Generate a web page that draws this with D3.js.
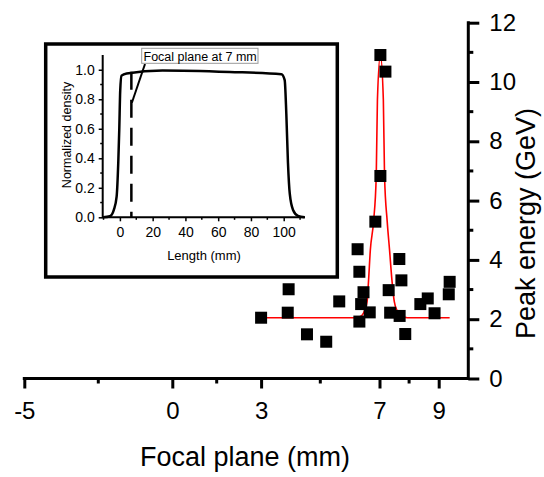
<!DOCTYPE html>
<html>
<head>
<meta charset="utf-8">
<script src="https://cdn.jsdelivr.net/npm/d3@7"></script>
<style>
  html, body { margin: 0; padding: 0; background: #fff; }
  svg { display: block; font-family: "Liberation Sans", Arial, sans-serif; }
</style>
</head>
<body>
<svg id="chart" width="544" height="477"></svg>
<script>
// Peak energy measured at each focal-plane position
const focalPlane = [3.0, 3.93, 3.9, 4.55, 5.2, 5.64, 6.26, 6.32, 6.46, 6.38, 6.67, 6.32, 6.86, 7.03, 7.03, 7.2,
                    7.31, 7.36, 7.67, 7.74, 7.68, 7.87, 8.38, 8.63, 8.86, 9.37, 9.34];
const peakEnergy = [2.05, 3.01, 2.22, 1.49, 1.24, 2.6, 4.36, 3.6, 2.91, 2.51, 2.23, 1.92, 5.29, 6.83, 10.91, 10.35,
                    2.98, 2.22, 4.03, 3.31, 2.11, 1.5, 2.51, 2.7, 2.2, 3.26, 2.84];

// Fitted peak curve
const fitX = [3.0, 6.2, 6.4, 6.5, 6.58, 6.63, 6.69, 6.8, 6.89, 6.93, 7.03, 7.13, 7.17, 7.26, 7.34, 7.42, 7.5, 7.6, 7.75, 7.95, 9.37];
const fitY = [2.05, 2.05, 2.12, 2.3, 2.59, 3.3, 4.33, 5.3, 6.83, 9.4, 10.9, 9.4, 6.83, 5.3, 4.33, 3.32, 2.59, 2.28, 2.1, 2.05, 2.05];

// Axis ticks
const xMajorTicks = [-5, 0, 3, 7, 9];
const xMinorTicks = [-2.5, 1.5, 5, 8];
const yMajorTicks = [0, 2, 4, 6, 8, 10, 12];
const yMinorTicks = [1, 3, 5, 7, 9, 11];

// Inset: plasma density profile along the cell
const cellLength = [-10.2, -6.1, -3.7, -2.0, -1.0, -0.4, 0.2, 1.0, 4.1, 26, 67, 98.6, 100.6, 101.6, 102.6, 103.7, 105.7, 108.7, 112.8];
const density    = [0, 0.007, 0.05, 0.14, 0.37, 0.59, 0.86, 0.96, 0.975, 0.995, 0.985, 0.97, 0.93, 0.70, 0.37, 0.16, 0.05, 0.01, 0];
const insetXTicks = [0, 20, 40, 60, 80, 100];
const insetXMinor = [-10, 10, 30, 50, 70, 90, 110];
const insetYTicks = [0, 0.2, 0.4, 0.6, 0.8, 1.0];
const insetYMinor = [0.1, 0.3, 0.5, 0.7, 0.9];
const focalPosition = 7;

const svg = d3.select("#chart");
const plain = d => String(d);   // ASCII hyphen for negatives

const x = d3.scaleLinear().domain([-5, 10]).range([24.3, 468.3]);
const y = d3.scaleLinear().domain([0, 12]).range([378.5, 22.7]);

// ---- main x axis (bottom) ----
const gx = svg.append("g").attr("transform", `translate(0,${y(0)})`);
gx.call(d3.axisBottom(x).tickValues(xMajorTicks).tickSize(10).tickPadding(13).tickFormat(plain))
  .call(g => g.select(".domain").remove());
gx.selectAll(".tick line").attr("stroke", "#000").attr("stroke-width", 3);
gx.selectAll(".tick text").attr("font-size", 24).attr("fill", "#000")
  .attr("font-family", "Liberation Sans, Arial, sans-serif");
gx.selectAll(".minor").data(xMinorTicks).join("line").attr("class", "minor")
  .attr("x1", d => x(d)).attr("x2", d => x(d)).attr("y1", 0).attr("y2", 5)
  .attr("stroke", "#000").attr("stroke-width", 3);
gx.append("line").attr("x1", x(-5) - 1.5).attr("x2", x(10)).attr("y1", 0).attr("y2", 0)
  .attr("stroke", "#000").attr("stroke-width", 3);

// ---- main y axis (right) ----
const gy = svg.append("g").attr("transform", `translate(${x(10)},0)`);
gy.call(d3.axisRight(y).tickValues(yMajorTicks).tickSize(11).tickPadding(10).tickFormat(plain))
  .call(g => g.select(".domain").remove());
gy.selectAll(".tick line").attr("stroke", "#000").attr("stroke-width", 3);
gy.selectAll(".tick text").attr("font-size", 24).attr("fill", "#000")
  .attr("font-family", "Liberation Sans, Arial, sans-serif");
gy.selectAll(".minor").data(yMinorTicks).join("line").attr("class", "minor")
  .attr("x1", 0).attr("x2", 5).attr("y1", d => y(d)).attr("y2", d => y(d))
  .attr("stroke", "#000").attr("stroke-width", 3);
gy.append("line").attr("x1", 0).attr("x2", 0).attr("y1", y(0) + 1.5).attr("y2", y(12) - 1.5)
  .attr("stroke", "#000").attr("stroke-width", 3);

// axis titles
svg.append("text").attr("x", 245).attr("y", 466).attr("text-anchor", "middle")
  .attr("font-size", 27).attr("fill", "#000").text("Focal plane (mm)");
svg.append("text").attr("transform", "translate(535,223.5) rotate(-90)").attr("text-anchor", "middle")
  .attr("font-size", 27).attr("fill", "#000").text("Peak energy (GeV)");

// ---- fitted curve ----
const fitLine = d3.line().x((d, i) => x(fitX[i])).y(d => y(d)).curve(d3.curveMonotoneX);
svg.append("path").datum(fitY).attr("d", fitLine)
  .attr("fill", "none").attr("stroke", "#ff0000").attr("stroke-width", 1.6);

// ---- data points ----
const sq = 12;
svg.append("g").selectAll("rect").data(peakEnergy).join("rect")
  .attr("x", (d, i) => x(focalPlane[i]) - sq / 2)
  .attr("y", d => y(d) - sq / 2)
  .attr("width", sq).attr("height", sq).attr("fill", "#000");

// ---- inset ----
const inset = svg.append("g");
inset.append("rect").attr("x", 45.7).attr("y", 44).attr("width", 291.6).attr("height", 233)
  .attr("fill", "#fff").attr("stroke", "#000").attr("stroke-width", 3.5);

const ix = d3.scaleLinear().domain([-10.5, 113]).range([102.7, 305]);
const iy = d3.scaleLinear().domain([0, 1.1]).range([217.3, 55]);

const igx = inset.append("g").attr("transform", `translate(0,${iy(0)})`);
igx.call(d3.axisBottom(ix).tickValues(insetXTicks).tickSize(4).tickPadding(6).tickFormat(plain))
  .call(g => g.select(".domain").remove());
igx.selectAll(".tick line").attr("stroke", "#000").attr("stroke-width", 1.5);
igx.selectAll(".tick text").attr("font-size", 14).attr("fill", "#000")
  .attr("font-family", "Liberation Sans, Arial, sans-serif");
igx.selectAll(".minor").data(insetXMinor).join("line").attr("class", "minor")
  .attr("x1", d => ix(d)).attr("x2", d => ix(d)).attr("y1", 0).attr("y2", 2.5)
  .attr("stroke", "#000").attr("stroke-width", 1.5);
igx.append("line").attr("x1", ix(-10.5)).attr("x2", ix(113)).attr("y1", 0).attr("y2", 0)
  .attr("stroke", "#000").attr("stroke-width", 2);

const igy = inset.append("g").attr("transform", `translate(${ix(-10.5)},0)`);
igy.call(d3.axisLeft(iy).tickValues(insetYTicks).tickSize(4).tickPadding(4).tickFormat(d3.format(".1f")))
  .call(g => g.select(".domain").remove());
igy.selectAll(".tick line").attr("stroke", "#000").attr("stroke-width", 1.5);
igy.selectAll(".tick text").attr("font-size", 14).attr("fill", "#000")
  .attr("font-family", "Liberation Sans, Arial, sans-serif");
igy.selectAll(".minor").data(insetYMinor).join("line").attr("class", "minor")
  .attr("x1", 0).attr("x2", -2.5).attr("y1", d => iy(d)).attr("y2", d => iy(d))
  .attr("stroke", "#000").attr("stroke-width", 1.5);
igy.append("line").attr("x1", 0).attr("x2", 0).attr("y1", iy(0) + 1).attr("y2", iy(1.1))
  .attr("stroke", "#000").attr("stroke-width", 2);

inset.append("text").attr("x", 204).attr("y", 260).attr("text-anchor", "middle")
  .attr("font-size", 13).attr("fill", "#000").text("Length (mm)");
inset.append("text").attr("transform", "translate(71,135) rotate(-90)").attr("text-anchor", "middle")
  .attr("font-size", 12.5).attr("fill", "#000").text("Normalized density");

// density profile
const densLine = d3.line().x((d, i) => ix(cellLength[i])).y(d => iy(d)).curve(d3.curveMonotoneX);
inset.append("path").datum(density).attr("d", densLine)
  .attr("fill", "none").attr("stroke", "#000").attr("stroke-width", 2.5);

// focal plane marker
inset.append("line").attr("x1", ix(focalPosition)).attr("x2", ix(focalPosition))
  .attr("y1", 71.7).attr("y2", iy(0))
  .attr("stroke", "#000").attr("stroke-width", 2.5).attr("stroke-dasharray", "18,10");

// callout label
inset.append("line").attr("x1", 145).attr("y1", 64).attr("x2", ix(focalPosition) + 0.5).attr("y2", 102.7)
  .attr("stroke", "#000").attr("stroke-width", 2);
inset.append("rect").attr("x", 141.7).attr("y", 48.3).attr("width", 116.3).attr("height", 15)
  .attr("fill", "#fff").attr("stroke", "#999").attr("stroke-width", 1);
inset.append("text").attr("x", 143.5).attr("y", 60.5)
  .attr("font-size", 12.5).attr("fill", "#000").text("Focal plane at 7 mm");
</script>
</body>
</html>
